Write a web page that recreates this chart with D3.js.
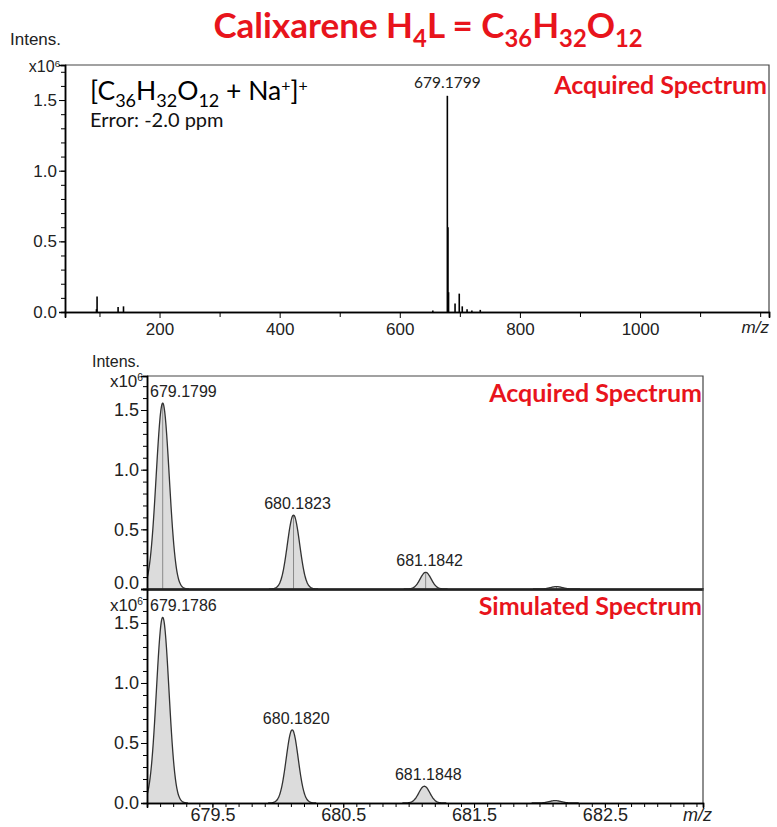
<!DOCTYPE html>
<html><head><meta charset="utf-8">
<script src="https://cdn.jsdelivr.net/npm/d3@7"></script>
<style>body{margin:0;background:#fff}</style></head>
<body><svg id="c" width="777" height="827"></svg>
<script>
// ---------- data ----------
const overviewMz  = [95, 96, 131, 140, 655, 679.18, 680.18, 681.18, 692, 699, 704, 712, 720, 734];
const overviewInt = [0.02, 0.11, 0.035, 0.04, 0.01, 1.53, 0.60, 0.14, 0.06, 0.13, 0.04, 0.02, 0.01, 0.015];
const overviewMajor = [200, 400, 600, 800, 1000];
const overviewMinor = [100, 300, 500, 700, 900, 1100, 1200];
const overviewPeakLabel = ["679.1799"];
const overviewPeakMz = [679.18];

const zoomMajor = [679.5, 680.5, 681.5, 682.5];
const yMajor = [0.0, 0.5, 1.0, 1.5];

const acqCenters = [679.12, 680.12, 681.13, 682.13];
const acqHeights = [1.56, 0.62, 0.14, 0.02];
const acqWidths  = [0.050, 0.047, 0.042, 0.045];
const acqLabels  = ["679.1799", "680.1823", "681.1842"];

const simCenters = [679.12, 680.11, 681.12, 682.12];
const simHeights = [1.55, 0.61, 0.14, 0.02];
const simWidths  = [0.048, 0.046, 0.042, 0.045];
const simLabels  = ["679.1786", "680.1820", "681.1848"];

// ---------- helpers ----------
const RED = "#e8141c";
const svg = d3.select("#c");
const AX = "Liberation Sans, Arial, sans-serif";
const CAL = "Lato, 'Open Sans', sans-serif";

function rich(g, x, y, parts, size, opts = {}) {
  const t = g.append("text").attr("x", x).attr("y", y)
    .attr("font-family", opts.family || CAL).attr("font-size", size)
    .attr("font-weight", opts.weight || "normal").attr("fill", opts.fill || "#000")
    .attr("text-anchor", opts.anchor || "start");
  let shift = 0;
  parts.forEach(p => {
    const s = p.sub ? size * 0.27 : p.sup ? -size * 0.33 : 0;
    const sp = t.append("tspan").text(p.t).attr("dy", s - shift);
    if (p.sub || p.sup) sp.attr("font-size", size * (p.sup ? 0.6 : 0.68));
    shift = s;
  });
  return t;
}
function range(a, b, step) { const r = []; for (let v = a; v <= b + 1e-9; v += step) r.push(+v.toFixed(4)); return r; }

// ---------- title ----------
rich(svg, 428, 38, [
  {t: "Calixarene H"}, {t: "4", sub: 1}, {t: "L = C"}, {t: "36", sub: 1},
  {t: "H"}, {t: "32", sub: 1}, {t: "O"}, {t: "12", sub: 1}
], 35, {weight: "bold", fill: RED, anchor: "middle"});

// ---------- overview panel ----------
const ox = d3.scaleLinear().domain([42.6, 1214.7]).range([65, 769]);
const oy = d3.scaleLinear().domain([0, 1.748]).range([312, 65]);
const topG = svg.append("g");

topG.append("path").attr("d", `M${ox.range()[0]},${oy.range()[1]}H${ox.range()[1]}V${oy.range()[0]}`)
  .attr("fill", "none").attr("stroke", "#444").attr("stroke-width", 1.2);

topG.selectAll("line.stick").data(overviewMz).join("line")
  .attr("x1", d => ox(d)).attr("x2", d => ox(d))
  .attr("y1", oy(0)).attr("y2", (d, i) => oy(overviewInt[i]))
  .attr("stroke", "#000").attr("stroke-width", 1.6);

function styleAxis(g, size) {
  g.select(".domain").attr("stroke", "#000").attr("stroke-width", 1.5);
  g.selectAll(".tick line").attr("stroke", "#000");
  g.selectAll(".tick text").attr("font-family", AX).attr("font-size", size).attr("fill", "#222");
}

// y axis
const oyMinor = svg.append("g").attr("transform", `translate(${ox.range()[0]},0)`)
  .call(d3.axisLeft(oy).tickValues(range(0, 1.7, 0.1)).tickSize(4).tickFormat(""));
oyMinor.select(".domain").attr("stroke", "#000").attr("stroke-width", 1.5);
oyMinor.selectAll(".tick line").attr("stroke", "#000");
const oyMajor = svg.append("g").attr("transform", `translate(${ox.range()[0]},0)`)
  .call(d3.axisLeft(oy).tickValues(yMajor).tickSize(6).tickPadding(2).tickFormat(d3.format(".1f")));
styleAxis(oyMajor, 17);

// x axis
const oxMinor = svg.append("g").attr("transform", `translate(0,${oy(0)})`)
  .call(d3.axisBottom(ox).tickValues(overviewMinor).tickSize(5).tickFormat(""));
oxMinor.select(".domain").attr("stroke", "#000").attr("stroke-width", 1.5);
oxMinor.selectAll(".tick line").attr("stroke", "#000");
const oxMajor = svg.append("g").attr("transform", `translate(0,${oy(0)})`)
  .call(d3.axisBottom(ox).tickValues(overviewMajor).tickSize(6).tickPadding(5).tickFormat(d3.format("d")));
styleAxis(oxMajor, 17);

topG.append("text").attr("x", 10).attr("y", 45).text("Intens.")
  .attr("font-family", AX).attr("font-size", 17).attr("fill", "#222");
rich(topG, 60, 72, [{t: "x10"}, {t: "6", sup: 1}], 16, {family: AX, anchor: "end", fill: "#222"});
topG.append("text").attr("x", 769).attr("y", 333).text("m/z")
  .attr("font-family", AX).attr("font-size", 17).attr("font-style", "italic").attr("text-anchor", "end").attr("fill", "#222");

topG.selectAll("text.pl").data(overviewPeakLabel).join("text")
  .attr("x", (d, i) => ox(overviewPeakMz[i])).attr("y", (d, i) => oy(overviewInt[overviewMz.indexOf(overviewPeakMz[i])]) - 8)
  .attr("text-anchor", "middle").attr("font-family", CAL).attr("font-size", 15.5).attr("fill", "#222").text(d => d);

topG.append("text").attr("x", 767).attr("y", 94).text("Acquired Spectrum")
  .attr("font-family", CAL).attr("font-weight", "bold").attr("font-size", 25).attr("fill", RED).attr("text-anchor", "end");

rich(topG, 90, 100, [
  {t: "[C"}, {t: "36", sub: 1}, {t: "H"}, {t: "32", sub: 1}, {t: "O"}, {t: "12", sub: 1},
  {t: " + Na"}, {t: "+", sup: 1}, {t: "]"}, {t: "+", sup: 1}
], 26.5, {});
topG.append("text").attr("x", 90).attr("y", 127).text("Error: -2.0 ppm")
  .attr("font-family", CAL).attr("font-size", 20).attr("fill", "#111");

// ---------- zoom panels ----------
const zx = d3.scaleLinear().domain([679.0, 683.25]).range([147, 703]);
const panels = [
  {y: d3.scaleLinear().domain([0, 1.785]).range([589, 376]), c: acqCenters, h: acqHeights, w: acqWidths,
   labels: acqLabels, name: "Acquired Spectrum", stick: true, id: "a", expY: 387, nameY: 402},
  {y: d3.scaleLinear().domain([0, 1.783]).range([803, 589]), c: simCenters, h: simHeights, w: simWidths,
   labels: simLabels, name: "Simulated Spectrum", stick: false, id: "s", expY: 611, nameY: 615}
];

panels.forEach((P, pi) => {
  const g = svg.append("g");
  const [y0, y1] = P.y.range();
  const [x0, x1] = zx.range();
  svg.append("clipPath").attr("id", "clip" + P.id).append("rect")
    .attr("x", x0).attr("y", y1).attr("width", x1 - x0).attr("height", y0 - y1);

  const area = d3.area().x(d => zx(d[0])).y0(y0).y1(d => P.y(d[1])).curve(d3.curveBasis);
  const line = d3.line().x(d => zx(d[0])).y(d => P.y(d[1])).curve(d3.curveBasis);
  const pk = g.append("g").attr("clip-path", `url(#clip${P.id})`);
  P.c.forEach((c, i) => {
    const s = P.w[i];
    const pts = d3.range(-4, 4.001, 0.1).map(k => [c + k * s, P.h[i] * Math.exp(-k * k / 2)]);
    pk.append("path").attr("d", area(pts)).attr("fill", "#dcdcdc");
    if (P.stick) pk.append("line").attr("x1", zx(c)).attr("x2", zx(c)).attr("y1", y0).attr("y2", P.y(P.h[i]))
      .attr("stroke", "#8a8a8a").attr("stroke-width", 1);
    pk.append("path").attr("d", line(pts)).attr("fill", "none").attr("stroke", "#333").attr("stroke-width", 1.3);
  });

  // frame
  g.append("path").attr("d", `M${x0},${y1}H${x1}V${y0}`).attr("fill", "none").attr("stroke", "#444").attr("stroke-width", 1.2);

  const ym = svg.append("g").attr("transform", `translate(${x0},0)`)
    .call(d3.axisLeft(P.y).tickValues(range(0, 1.7, 0.1)).tickSize(4).tickFormat(""));
  ym.select(".domain").attr("stroke", "#000").attr("stroke-width", 1.5);
  ym.selectAll(".tick line").attr("stroke", "#000");
  const yM = svg.append("g").attr("transform", `translate(${x0},0)`)
    .call(d3.axisLeft(P.y).tickValues(yMajor).tickSize(6).tickPadding(2).tickFormat(d3.format(".1f")));
  styleAxis(yM, 18);
  if (pi === 0) yM.selectAll(".tick text").filter(d => d === 0).attr("dy", "-0.02em");

  const xm = svg.append("g").attr("transform", `translate(0,${y0})`)
    .call(d3.axisBottom(zx).tickValues(range(679.0, 683.2, 0.1)).tickSize(pi === 0 ? 0 : 4).tickFormat(""));
  xm.select(".domain").attr("stroke", "#000").attr("stroke-width", pi === 0 ? 2.5 : 1.5);
  xm.selectAll(".tick line").attr("stroke", "#000");
  if (pi === 1) {
    const xM = svg.append("g").attr("transform", `translate(0,${y0})`)
      .call(d3.axisBottom(zx).tickValues(zoomMajor).tickSize(5).tickPadding(0).tickFormat(d3.format(".1f")));
    styleAxis(xM, 18);
    g.append("text").attr("x", 712).attr("y", 821).text("m/z")
      .attr("font-family", AX).attr("font-size", 18).attr("font-style", "italic").attr("text-anchor", "end").attr("fill", "#222");
  }

  rich(g, x0 - 4, P.expY, [{t: "x10"}, {t: "6", sup: 1}], 17, {family: AX, anchor: "end", fill: "#222"});

  P.labels.forEach((L, i) => {
    const px = zx(P.c[i]);
    const t = g.append("text").attr("y", P.y(P.h[i]) - 6).text(L)
      .attr("font-family", AX).attr("font-size", 16).attr("fill", "#222");
    if (px - 34 < x0) t.attr("x", x0 + 3).attr("text-anchor", "start");
    else t.attr("x", px + 4).attr("text-anchor", "middle");
  });

  g.append("text").attr("x", 702).attr("y", P.nameY).text(P.name)
    .attr("font-family", CAL).attr("font-weight", "bold").attr("font-size", 25).attr("fill", RED).attr("text-anchor", "end");
});

svg.append("text").attr("x", 92).attr("y", 367).text("Intens.")
  .attr("font-family", AX).attr("font-size", 16).attr("fill", "#222");
</script></body></html>
